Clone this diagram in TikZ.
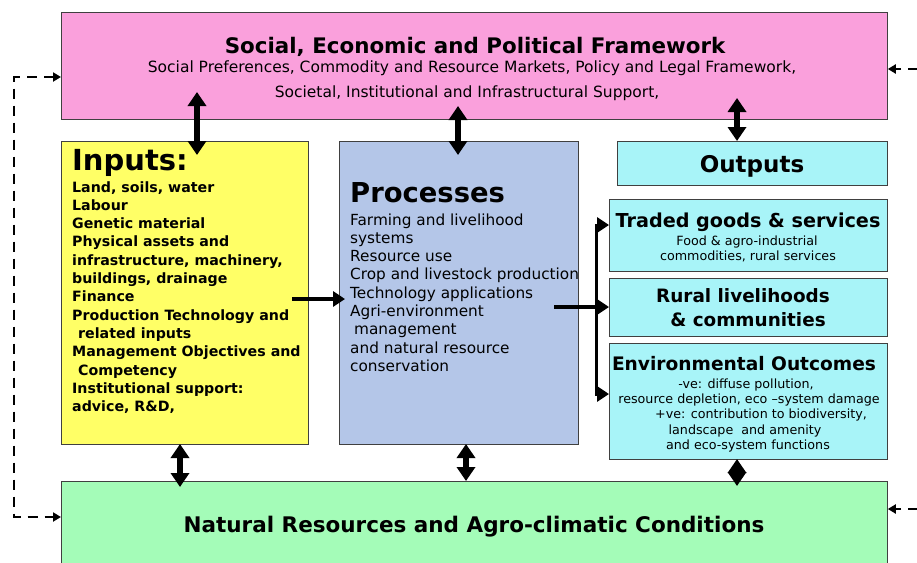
\documentclass[tikz,border=0pt]{standalone}
\usepackage{fontspec}
\setmainfont{DejaVu Sans}
\usetikzlibrary{arrows.meta}
\definecolor{pinkbox}{HTML}{FAA0DC}
\definecolor{yellowbox}{HTML}{FFFF66}
\definecolor{bluebox}{HTML}{B4C6E8}
\definecolor{cyanbox}{HTML}{A8F4F8}
\definecolor{greenbox}{HTML}{A4FCB8}
\begin{document}
\begin{tikzpicture}[x=1pt,y=-1pt,
  box/.style={draw=black!75, line width=0.8pt, anchor=north west, inner sep=0pt},
  txt/.style={anchor=base, inner sep=0pt},
  ltxt/.style={anchor=base west, inner sep=0pt},
  dbl/.style={line width=6pt, {Triangle[length=14pt,width=18pt]}-{Triangle[length=14pt,width=18pt]}},
  sgl/.style={line width=4pt, -{Triangle[length=12pt,width=15pt]}},
  brk/.style={line width=3pt, line join=miter, {Triangle[length=12pt,width=15pt]}-{Triangle[length=12pt,width=15pt]}},
  fb/.style={line width=2.5pt, dash pattern=on 10pt off 7pt},
  fbtip/.style={-{Triangle[length=8pt,width=9pt]}},
  fbtips/.style={{Triangle[length=8pt,width=9pt]}-{Triangle[length=8pt,width=9pt]}}
]
\clip (0,0) rectangle (917,562);
% boxes
\node[box, fill=pinkbox, minimum width=826pt, minimum height=107pt] (sepf) at (61,12) {};
\node[box, fill=yellowbox, minimum width=247pt, minimum height=303pt] (inp) at (61,141) {};
\node[box, fill=bluebox, minimum width=239pt, minimum height=303pt] (proc) at (339,141) {};
\node[box, fill=cyanbox, minimum width=270pt, minimum height=44pt] (outp) at (617,141) {};
\node[box, fill=cyanbox, minimum width=278pt, minimum height=72pt] (trad) at (609,199) {};
\node[box, fill=cyanbox, minimum width=278pt, minimum height=58pt] (rur) at (609,278) {};
\node[box, fill=cyanbox, minimum width=278pt, minimum height=116pt] (env) at (609,343) {};
\node[box, fill=greenbox, minimum width=826pt, minimum height=100pt] (nat) at (61,481) {};

% top texts
\node[txt, font=\fontsize{21.4}{25}\selectfont\bfseries] (sepft) at (475,53) {Social, Economic and Political Framework};
\node[txt, font=\fontsize{15.5}{18}\selectfont] (sepf1) at (472,72) {Social Preferences, Commodity and Resource Markets, Policy and Legal Framework,};
\node[txt, font=\fontsize{15.5}{18}\selectfont] (sepf2) at (467,97) {Societal, Institutional and Infrastructural Support,};

% inputs
\node[ltxt, font=\fontsize{29}{33}\selectfont\bfseries] (inpt) at (72,170) {Inputs:};
\foreach \t [count=\i from 0] in {{Land, soils, water},{Labour},{Genetic material},{Physical assets and},{infrastructure, machinery,},{buildings, drainage},{Finance},{Production Technology and},{\hspace{6pt}related inputs},{Management Objectives and},{\hspace{6pt}Competency},{Institutional support:},{advice, R\&D,}}
  \node[ltxt, font=\fontsize{14.2}{17}\selectfont\bfseries] (in\i) at (72,192+18.3*\i) {\t};

% processes
\node[ltxt, font=\fontsize{27.4}{31}\selectfont\bfseries] (proct) at (350,202) {Processes};
\foreach \t [count=\i from 0] in {{Farming and livelihood},{systems},{Resource use},{Crop and livestock production},{Technology applications},{Agri-environment},{\hspace{4pt}management},{and natural resource},{conservation}}
  \node[ltxt, font=\fontsize{15.3}{18}\selectfont] (pr\i) at (350,225+18.3*\i) {\t};

% outputs
\node[txt, font=\fontsize{23}{27}\selectfont\bfseries] (outpt) at (752,172) {Outputs};
\node[txt, font=\fontsize{19.2}{23}\selectfont\bfseries] (tradt) at (748,227) {Traded goods \& services};
\node[txt, font=\fontsize{12.7}{15}\selectfont] (trad1) at (747,245) {Food \& agro-industrial};
\node[txt, font=\fontsize{12.7}{15}\selectfont] (trad2) at (748,260) {commodities, rural services};
\node[txt, font=\fontsize{18.4}{22}\selectfont\bfseries] (rurt1) at (743,302) {Rural livelihoods};
\node[txt, font=\fontsize{18.4}{22}\selectfont\bfseries] (rurt2) at (748,326) {\& communities};
\node[txt, font=\fontsize{18.6}{22}\selectfont\bfseries] (envt) at (744,370) {Environmental Outcomes};
\node[txt, font=\fontsize{12.7}{15}\selectfont] (env1) at (746,388) {-ve: diffuse pollution,};
\node[txt, font=\fontsize{12.7}{15}\selectfont] (env2) at (749,403) {resource depletion, eco –system damage};
\node[txt, font=\fontsize{12.7}{15}\selectfont] (env3) at (761,418) {+ve: contribution to biodiversity,};
\node[txt, font=\fontsize{12.7}{15}\selectfont] (env4) at (745,434) {landscape\ \ and amenity};
\node[txt, font=\fontsize{12.7}{15}\selectfont] (env5) at (748,449) {and eco-system functions};

% bottom
\node[txt, font=\fontsize{21.5}{25}\selectfont\bfseries] (natt) at (474,532) {Natural Resources and Agro-climatic Conditions};

% coordinates for arrow ends
\coordinate (a1t) at (197,92);  \coordinate (a1b) at (197,155);
\coordinate (a2t) at (458,106); \coordinate (a2b) at (458,155);
\coordinate (a3t) at (737,98);  \coordinate (a3b) at (737,141);
\coordinate (b1t) at (180,444); \coordinate (b1b) at (180,487);
\coordinate (b2t) at (466,444); \coordinate (b2b) at (466,481);
\coordinate (b3t) at (737,459); \coordinate (b3b) at (737,486);
\coordinate (ip) at (292,299);  \coordinate (ipe) at (345,299);
\coordinate (po) at (554,307);
\coordinate (bj1) at (596,225); \coordinate (bj2) at (596,394);

% vertical double arrows
\draw[dbl] (a1t) -- (a1b);
\draw[dbl] (a2t) -- (a2b);
\draw[dbl] (a3t) -- (a3b);
\draw[dbl] (b1t) -- (b1b);
\draw[dbl] (b2t) -- (b2b);
\draw[dbl] (b3t) -- (b3b);

% flow arrows
\draw[sgl] (ip) -- (ipe);
\draw[sgl] (po) -- (po -| rur.west);
\draw[brk] (bj1 -| trad.west) -- (bj1) -- (bj2) -- (bj2 -| env.west);

% feedback dashed
\coordinate (dl1) at (14,77); \coordinate (dl2) at (14,517);
\draw[fb, fbtips] (dl1 -| sepf.west) -- (dl1) -- (dl2) -- (dl2 -| nat.west);
\coordinate (dr1) at (935,69); \coordinate (dr2) at (935,509);
\draw[fb, fbtip] (dr1) -- (dr1 -| sepf.east);
\draw[fb, fbtip] (dr2) -- (dr2 -| nat.east);
\end{tikzpicture}
\end{document}
